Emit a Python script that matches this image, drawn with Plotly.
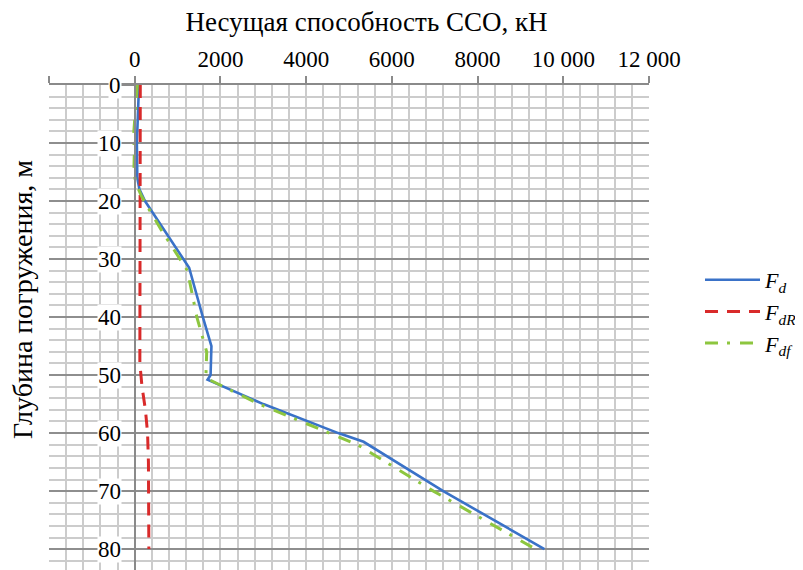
import plotly.graph_objects as go

# ---- data (depth in m, capacity in kN) ----
fd_depth = [0, 5, 10, 16, 18, 20, 22, 25, 31.5, 40, 45, 50, 50.8, 55, 60, 61.5, 70, 80]
fd_val   = [100, 70, 50, 60, 110, 240, 420, 690, 1270, 1590, 1790, 1770, 1700, 3000, 4750, 5340, 7200, 9560]

fdr_depth = [0, 20, 48, 52, 56, 60, 65, 80]
fdr_val   = [130, 120, 120, 170, 250, 300, 320, 330]

fdf_depth = [0, 4, 8, 12, 15, 17, 19, 21, 25, 32, 40, 46, 50.5, 55, 60, 62, 70, 80]
fdf_val   = [60, 20, -20, -10, -20, 30, 150, 300, 620, 1230, 1450, 1680, 1660, 2900, 4550, 5200, 6970, 9350]

x_tickvals = [-2000, 0, 2000, 4000, 6000, 8000, 10000, 12000]
x_ticktext = ["", "0", "2000", "4000", "6000", "8000", "10 000", "12 000"]
y_tickvals = [0, 10, 20, 30, 40, 50, 60, 70, 80]
y_ticktext = ["0", "10", "20", "30", "40", "50", "60", "70", "80"]

x_title = "Несущая способность ССО, кН"
y_title = "Глубина погружения, м"
names = ["<i>F<sub>d</sub></i>", "<i>F<sub>dR</sub></i>", "<i>F<sub>df</sub></i>"]

FONT = "Liberation Serif"
OFF = 8                      # page body margin
W, H = 803 - OFF, 570 - OFF
L, R, T, B = 49 - OFF, 154, 85 - OFF, 0
PW, PH = W - L - R, H - T - B

fig = go.Figure()
fig.add_trace(go.Scatter(x=fd_val, y=fd_depth, mode="lines", name=names[0], legendgroup="a",
                         line=dict(color="#3a72c8", width=2.6)))
fig.add_trace(go.Scatter(x=fdr_val, y=fdr_depth, mode="lines", name=names[1], legendgroup="b",
                         line=dict(color="#d92a2a", width=3, dash="13px,9px")))
fig.add_trace(go.Scatter(x=fdf_val, y=fdf_depth, mode="lines", name=names[2], legendgroup="c",
                         line=dict(color="#8dc63f", width=3, dash="13px,9px,3px,10px")))

x_min, x_max = -2000, 12000
fig.update_xaxes(
    range=[x_min, x_max], side="top", tickvals=x_tickvals, ticktext=x_ticktext,
    showline=True, linecolor="#8a8a8a", linewidth=2,
    ticks="outside", ticklen=7, tickwidth=2, tickcolor="#8a8a8a",
    showgrid=True, gridcolor="#cccccc", gridwidth=2, zeroline=False,
    minor=dict(tick0=0, dtick=400, showgrid=True, gridcolor="#cccccc", gridwidth=2),
    tickfont=dict(family=FONT, size=23, color="black"),
    automargin=False,
)
fig.update_yaxes(
    range=[83.6, 0], tickvals=y_tickvals, showticklabels=False,
    anchor="free", position=(0 - x_min) / (x_max - x_min),
    showline=True, linecolor="#8a8a8a", linewidth=2,
    ticks="outside", ticklen=13, tickwidth=2, tickcolor="#8a8a8a",
    showgrid=True, gridcolor="#8e8e8e", gridwidth=2, zeroline=False,
    minor=dict(tick0=0, dtick=2, showgrid=True, gridcolor="#cccccc", gridwidth=2),
    automargin=False,
)

for v, t in zip(y_tickvals, y_ticktext):
    fig.add_annotation(x=0, y=v, xref="x", yref="y", text=t, showarrow=False,
                       xanchor="right", yanchor="middle", xshift=-13,
                       bgcolor="white", borderpad=0,
                       font=dict(family=FONT, size=23, color="black"))

fig.add_annotation(xref="paper", yref="paper", x=(22 - 49) / PW, y=1 - (300 - 85) / PH,
                   text=y_title, textangle=-90, showarrow=False, xanchor="center", yanchor="middle",
                   font=dict(family=FONT, size=28, color="black"))

fig.update_layout(
    width=W, height=H,
    margin=dict(l=L, r=R, t=T, b=B, autoexpand=False),
    paper_bgcolor="white", plot_bgcolor="white",
    title=dict(text=x_title, x=(366.5 - OFF) / W, xanchor="center", y=1 - (22 - OFF) / H,
               yanchor="middle", yref="container", font=dict(family=FONT, size=27, color="black")),
    legend=dict(x=(700 - 49) / PW, xanchor="left", y=1 - (259 - 85) / PH, yanchor="top",
                font=dict(family=FONT, size=22, color="black"), tracegroupgap=0, itemwidth=55,
                bgcolor="rgba(0,0,0,0)"),
    font=dict(family=FONT),
)

fig.write_html("out.html")
